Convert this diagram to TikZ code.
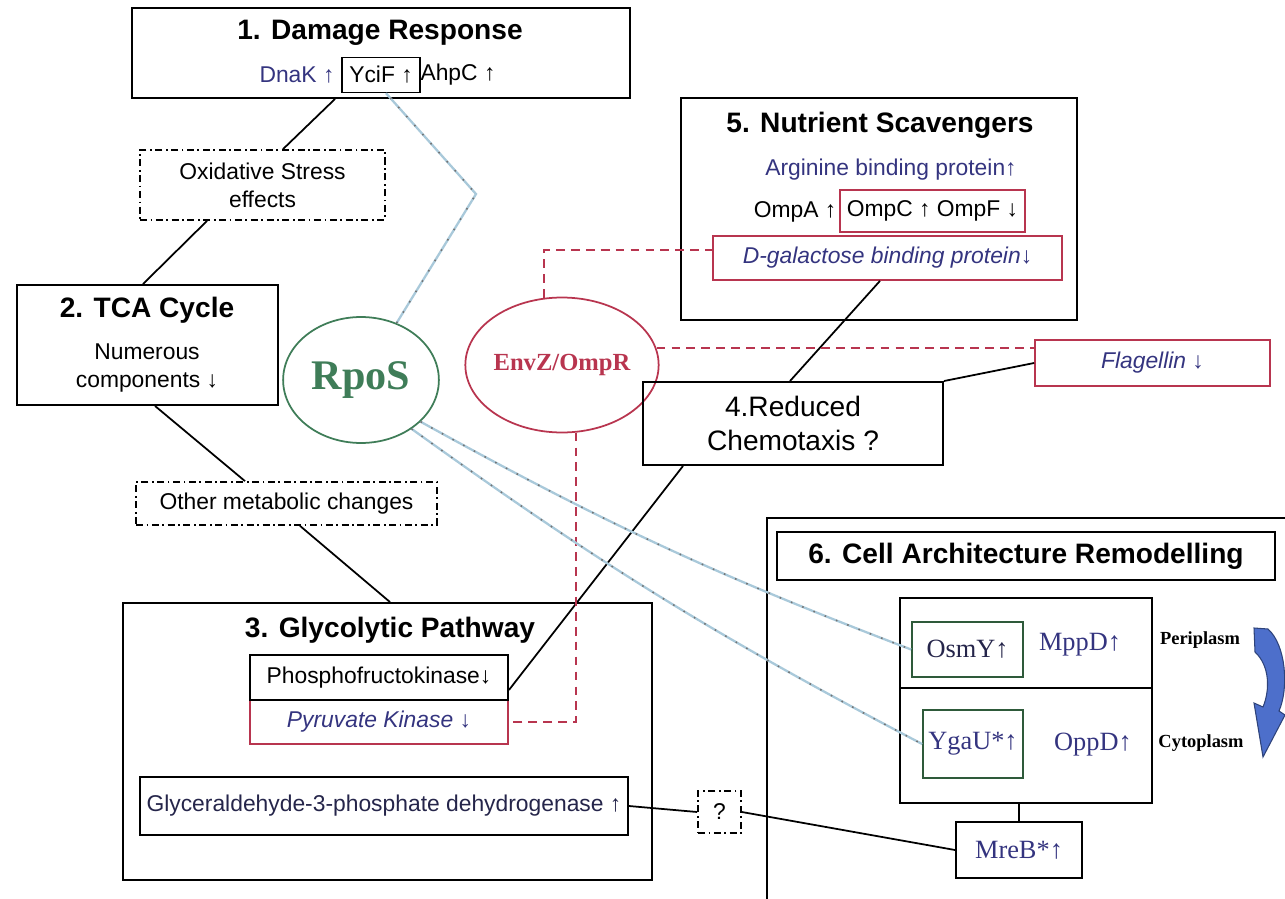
\documentclass[tikz,border=0pt]{standalone}
\usepackage{fontspec}
\setmainfont{Liberation Sans}
\newfontfamily\rmserif{Liberation Serif}
\usetikzlibrary{shapes.geometric}
\definecolor{navy}{HTML}{34347F}
\definecolor{ink}{HTML}{25254A}
\definecolor{wine}{HTML}{B8354F}
\definecolor{rposgreen}{HTML}{3F7D58}
\definecolor{boxgreen}{HTML}{2E5A3A}
\definecolor{skyline}{HTML}{A9C9DA}
\definecolor{arrowblue}{HTML}{4D6FCB}
\begin{document}
\begin{tikzpicture}[x=0.02cm,y=-0.02cm,
  box/.style={draw,line width=1.1pt,inner sep=0pt},
  redbox/.style={draw=wine,line width=1pt,inner sep=0pt},
  hint/.style={draw,line width=1pt,dash pattern=on 4pt off 2pt on 1pt off 2pt,inner sep=0pt,align=center,font=\fontsize{13}{16}\selectfont},
  title/.style={font=\bfseries\fontsize{16}{19}\selectfont},
  txt/.style={font=\fontsize{13}{15.5}\selectfont},
  itxt/.style={font=\itshape\fontsize{13}{15.5}\selectfont},
  prot/.style={font=\rmserif\fontsize{15}{18}\selectfont,text=navy},
  mem/.style={font=\rmserif\bfseries\fontsize{10.5}{12}\selectfont},
  link/.style={line width=1pt},
  env/.style={wine,line width=1pt,dash pattern=on 5pt off 3.5pt},
  rpo/.style={draw=skyline,line width=1.3pt,postaction={draw=black!55,line width=0.9pt,dash pattern=on 0.9pt off 6pt}}]
\useasboundingbox (0,0) rectangle (1285,899);

\node[box,minimum width=9.96cm,minimum height=1.8cm] (dmg) at (381,53) {};
\node[title] (dmgt) at (380,33) {1. Damage Response};
\node[txt,text=navy] (dnak) at (297,75) {DnaK ↑};
\node[box,txt,line width=0.8pt,minimum width=1.56cm,minimum height=0.7cm] (ycif) at (381,75) {YciF ↑};
\node[txt] (ahpc) at (458,75) {AhpC ↑};

\node[hint,minimum width=4.9cm,minimum height=1.4cm] (oxid) at (262.5,185) {Oxidative Stress\\effects};

\node[box,minimum width=5.22cm,minimum height=2.4cm] (tca) at (147.5,345) {};
\node[title] (tcat) at (147,310) {2. TCA Cycle};
\node[txt,align=center] (tcax) at (147,368) {Numerous\\components ↓};

\node[hint,minimum width=6.02cm,minimum height=0.86cm] (other) at (286.5,503.5) {Other metabolic changes};

\node[box,minimum width=10.58cm,minimum height=5.54cm] (glyc) at (387.5,741.5) {};
\node[title] (glyct) at (390,630) {3. Glycolytic Pathway};
\node[redbox,itxt,text=navy,minimum width=5.16cm,minimum height=0.88cm] (pyk) at (379,722) {Pyruvate Kinase ↓};
\node[box,txt,minimum width=5.16cm,minimum height=0.9cm] (pfk) at (379,677.5) {Phosphofructokinase↓};
\node[box,txt,text=ink,minimum width=9.76cm,minimum height=1.16cm] (gapdh) at (384,806) {Glyceraldehyde-3-phosphate dehydrogenase ↑};
\node[hint,minimum width=0.86cm,minimum height=0.84cm] (q) at (719.5,812) {?};

\node[draw=rposgreen,line width=1pt,ellipse,minimum width=2.76cm,minimum height=2.52cm,text=rposgreen,font=\rmserif\bfseries\fontsize{24}{28}\selectfont] (rpos) at (361,380) {RpoS};
\node[draw=wine,line width=1pt,ellipse,inner sep=0pt,minimum width=2.98cm,minimum height=2.7cm,text=wine,font=\rmserif\bfseries\fontsize{14}{16}\selectfont] (envz) at (562,365) {EnvZ/OmpR};

\node[box,minimum width=7.92cm,minimum height=4.44cm] (nutr) at (879,209) {};
\node[title] (nutrt) at (880,125) {5. Nutrient Scavengers};
\node[txt,text=navy] (argp) at (891,170) {Arginine binding protein↑};
\node[txt] (ompa) at (795,212) {OmpA ↑};
\node[redbox,txt,minimum width=3.7cm,minimum height=0.84cm] (ompc) at (932.5,211) {OmpC ↑ OmpF ↓};
\node[redbox,itxt,text=navy,minimum width=6.98cm,minimum height=0.88cm] (dgal) at (887.5,258) {D-galactose binding protein↓};

\node[redbox,itxt,text=navy,minimum width=4.7cm,minimum height=0.92cm] (flag) at (1152.5,363) {Flagellin ↓};
\node[box,align=center,font=\fontsize{16}{19}\selectfont,minimum width=6cm,minimum height=1.66cm] (chemo) at (793,423.5) {4.Reduced\\Chemotaxis ?};

\draw[line width=1.1pt] (1285,518) -- (767,518) -- (767,899);
\node[box,title,minimum width=9.96cm,minimum height=0.96cm] (cellt) at (1026,556) {6. Cell Architecture Remodelling};
\node[box,minimum width=5.04cm,minimum height=4.1cm] (memb) at (1026,700.5) {};
\draw[line width=1pt] ([yshift=0.25cm]memb.west) -- ([yshift=0.25cm]memb.east);
\node[draw=boxgreen,line width=1pt,inner sep=0pt,prot,text=ink,minimum width=2.22cm,minimum height=1.1cm] (osmy) at (967.5,649.5) {OsmY↑};
\node[prot] (mppd) at (1080,645) {MppD↑};
\node[draw=boxgreen,line width=1pt,inner sep=0pt,prot,minimum width=2cm,minimum height=1.36cm] (ygau) at (973,744) {YgaU*↑};
\node[prot] (oppd) at (1093,745) {OppD↑};
\node[box,prot,minimum width=2.52cm,minimum height=1.12cm] (mreb) at (1019,850) {MreB*↑};
\node[mem] (peri) at (1200,640) {Periplasm};
\node[mem] (cyto) at (1201,743) {Cytoplasm};
\filldraw[fill=arrowblue,draw=arrowblue!60!black,line width=0.6pt] (1254,628) -- (1268,629) .. controls (1286,645) and (1289,688) .. (1279,711) -- (1285,715) -- (1263,757) -- (1254,703) -- (1263,707) .. controls (1270,690) and (1270,666) .. (1255,652) -- cycle;

\draw[link] ([xshift=-0.92cm]dmg.south) -- ([xshift=0.41cm]oxid.north);
\draw[link] ([xshift=-1.11cm]oxid.south) -- ([xshift=-0.09cm]tca.north);
\draw[link] ([xshift=0.15cm]tca.south) -- ([xshift=-0.83cm]other.north);
\draw[link] ([xshift=0.27cm]other.south) -- ([xshift=0.05cm]glyc.north);
\draw[link] ([xshift=-0.15cm]dgal.south) -- ([xshift=-0.06cm]chemo.north);
\draw[link] ([xshift=-2.2cm]chemo.south) -- ([yshift=-0.25cm]pfk.east);
\draw[link] (chemo.north east) -- (flag.west);
\draw[link] (gapdh.east) -- (q.west);
\draw[link] (q.east) -- (mreb.west);
\draw[link] (mreb.north) -- (mreb.north |- memb.south);

\draw[env] (envz.105) |- ([yshift=0.16cm]dgal.west);
\draw[env] (envz.10) -- (envz.10 -| flag.west);
\draw[env] (envz.-78) |- (pyk.east);

\coordinate (bend) at (476,194);
\draw[rpo] (rpos.58) -- (bend) -- ([xshift=0.1cm]ycif.south);
\draw[rpo] (rpos.-35) to[bend right=4] (osmy.west);
\draw[rpo] (rpos.-44) to[bend right=4] (ygau.west);
\end{tikzpicture}
\end{document}
